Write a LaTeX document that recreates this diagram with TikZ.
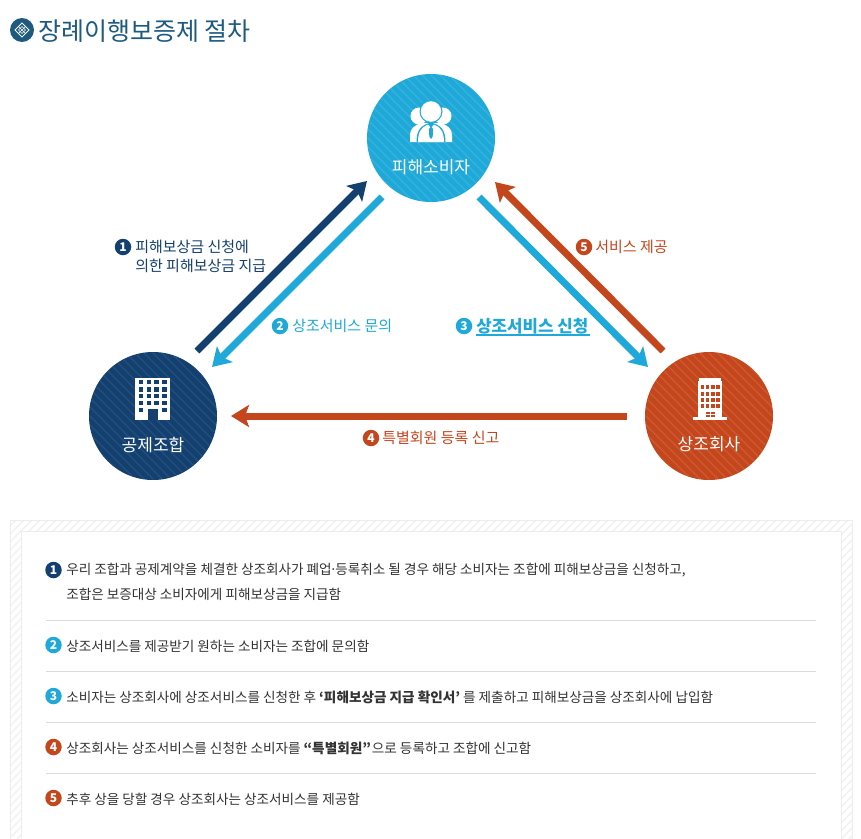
\documentclass[tikz,border=0pt]{standalone}
\usepackage{fontspec}
\setmainfont{Noto Sans CJK KR}
\usetikzlibrary{arrows.meta}
\definecolor{navy}{HTML}{13406F}
\definecolor{navyl}{HTML}{24507E}
\definecolor{sky}{HTML}{1FA9D8}
\definecolor{skyl}{HTML}{36B3DD}
\definecolor{rust}{HTML}{C4461C}
\definecolor{rustl}{HTML}{CF5A32}
\definecolor{titlec}{HTML}{1D5A7F}
\definecolor{bodyc}{HTML}{333333}
\newcommand{\pxs}[1]{\fontsize{\the\dimexpr#1pt*3/4\relax}{\the\dimexpr#1pt\relax}\selectfont}
\newcommand{\hatchcircle}[4]{%
  \fill[#3] (#1,#2) circle (64);
  \begin{scope}
    \clip (#1,#2) circle (63.5);
    \foreach \dd in {-126,-117,...,126}
      \draw[#4,line width=1.3*0.75pt] (#1+\dd-70,#2-70) -- (#1+\dd+70,#2+70);
  \end{scope}}
\tikzset{
  x=0.75pt,y=-0.75pt,
  num/.style={circle,inner sep=0pt,minimum size=16.5*0.75pt,fill=#1,text=white,font=\pxs{12}\bfseries},
  circlabel/.style={text=white,font=\pxs{17}},
  flow/.style={line width=7*0.75pt,draw=#1,-{Stealth[length=18*0.75pt,width=22*0.75pt,inset=4*0.75pt]}},
  lab/.style={anchor=west,inner sep=0pt,text=#1,font=\pxs{15}},
  body/.style={anchor=west,inner sep=0pt,text=bodyc,font=\pxs{13.6}},
  sep/.style={draw=black!14,line width=0.75pt},
  icon/.style={fill=white,draw=none},
}
\begin{document}
\begin{tikzpicture}
\useasboundingbox (0,0) rectangle (861,839);
\fill[white] (0,0) rectangle (861,839);
% title
\node[circle,fill=titlec,minimum size=24*0.75pt,inner sep=0pt] (ticon) at (22,30) {};
\draw[white,line width=0.6pt] (22,23) -- (29,30) -- (22,37) -- (15,30) -- cycle;
\draw[white,line width=0.5pt] (22,26.5) -- (25.5,30) -- (22,33.5) -- (18.5,30) -- cycle;
\draw[white,line width=0.4pt] (18.5,26.5) -- (25.5,33.5) (25.5,26.5) -- (18.5,33.5);
\node[anchor=west,inner sep=0pt,text=titlec,font=\pxs{25}] (title) at (38,31) {장례이행보증제 절차};
% circles
\hatchcircle{431}{138}{sky}{skyl}
\hatchcircle{153}{416}{navy}{navyl}
\hatchcircle{709}{416}{rust}{rustl}
\node[circle,minimum size=128*0.75pt,inner sep=0pt] (cons) at (431,138) {};
\node[circle,minimum size=128*0.75pt,inner sep=0pt] (union) at (153,416) {};
\node[circle,minimum size=128*0.75pt,inner sep=0pt] (firm) at (709,416) {};
\node[circlabel] (consl) at (431,167) {피해소비자};
\node[circlabel] (unionl) at (153,445) {공제조합};
\node[circlabel] (firml) at (709,444) {상조회사};
% people icon
\fill[icon] (419,116) circle (8.5);
\fill[icon] (443,116) circle (8.5);
\fill[icon] (410,142) -- (410,135) .. controls (410,129) and (414,125) .. (422,123) -- (440,123) .. controls (448,125) and (452,129) .. (452,135) -- (452,142) -- cycle;
\fill[sky] (431,111.5) circle (11.5);
\fill[icon] (431,111.5) circle (10.3);
\fill[sky] (416.5,142) .. controls (416.5,130) and (421,125) .. (431,122.5) .. controls (441,125) and (445.5,130) .. (445.5,142) -- cycle;
\fill[icon] (418,142) .. controls (418,131) and (422,127) .. (428,124.5) -- (431,128) -- (434,124.5) .. controls (440,127) and (444,131) .. (444,142) -- cycle;
\fill[sky] (431,126.5) -- (433,129) -- (432.7,136.5) -- (431,139) -- (429.3,136.5) -- (429,129) -- cycle;
% union building
\fill[icon] (135,378) rectangle (170,420);
\foreach \yy in {380,387.3,394,400.7}
  \foreach \xx in {139,146.7,154.3,162.3}
    \fill[navy] (\xx,\yy) rectangle ++(4.4,4.4);
\fill[navy] (147.7,409) rectangle (158.3,420);
\fill[navy] (139,408) rectangle ++(4.4,4.4);
\fill[navy] (162.3,408) rectangle ++(4.4,4.4);
% firm building
\fill[icon] (698.5,378) rectangle (721,381);
\fill[icon] (697.5,381) rectangle (722,417);
\fill[icon] (693,417) rectangle (726.5,420);
\foreach \yy in {385,391.6,398,404.4}
  \foreach \xx in {700.5,705.8,711.1,716.4}
    \fill[rust] (\xx,\yy) rectangle ++(3.6,4);
\fill[rust] (705.5,411.5) rectangle (714.5,416.5);
\fill[icon] (709.6,411.5) rectangle (710.4,416.5);
\fill[icon] (705.5,413.6) rectangle (714.5,414.2);
% arrows
\coordinate (a1s) at (197,351);
\coordinate (a1e) at (367,181);
\coordinate (a2s) at (382,197);
\coordinate (a2e) at (212,367);
\coordinate (a3s) at (479,197);
\coordinate (a3e) at (648,367);
\coordinate (a5s) at (663,351);
\coordinate (a5e) at (495,182);
\coordinate (a4s) at (627,416);
\coordinate (a4e) at (231,416);
\draw[flow=navy] (a1s) -- (a1e);
\draw[flow=sky] (a2s) -- (a2e);
\draw[flow=sky] (a3s) -- (a3e);
\draw[flow=rust] (a5s) -- (a5e);
\draw[flow=rust] (a4s) -- (a4e);
% arrow labels
\node[num=navy] (n1) at (123,247) {1};
\node[lab=navy] (l1a) at (135,247) {피해보상금 신청에};
\node[lab=navy] (l1b) at (135,265.5) {의한 피해보상금 지급};
\node[num=sky] (n2) at (280,326) {2};
\node[lab=sky] (l2) at (292,326) {상조서비스 문의};
\node[num=sky] (n3) at (464,326) {3};
\node[lab=sky,font=\pxs{16.8}\bfseries] (l3) at (476,326) {상조서비스 신청};
\draw[sky,line width=0.9pt] (476,335) -- (590,335);
\node[num=rust] (n5) at (584,247) {5};
\node[lab=rust] (l5) at (595,247) {서비스 제공};
\node[num=rust] (n4) at (371,438) {4};
\node[lab=rust] (l4) at (382,438) {특별회원 등록 신고};
% panel
\begin{scope}
  \clip (10,520) rectangle (852,839);
  \foreach \dd in {0,8,...,1192}
    \draw[black!6,line width=1.2*0.75pt] (10+\dd,510) -- (10+\dd-340,850);
\end{scope}
\draw[black!7,line width=0.75pt] (10,839) -- (10,520) -- (852,520) -- (852,839);
\fill[white] (21,531) rectangle (841,839);
\draw[black!7,line width=0.75pt] (21,839) -- (21,531) -- (841,531) -- (841,839);
\node[num=navy] (b1) at (53.5,570) {1};
\node[body] (t1a) at (66,570) {우리 조합과 공제계약을 체결한 상조회사가 폐업\kern-1.5pt·\kern-1.5pt등록취소 될 경우 해당 소비자는 조합에 피해보상금을 신청하고,};
\node[body] (t1b) at (66,594) {조합은 보증대상 소비자에게 피해보상금을 지급함};
\draw[sep] (46,620) -- (816,620);
\node[num=sky] (b2) at (53.5,645) {2};
\node[body] (t2) at (66,646) {상조서비스를 제공받기 원하는 소비자는 조합에 문의함};
\draw[sep] (46,671) -- (816,671);
\node[num=sky] (b3) at (53.5,696) {3};
\node[body] (t3) at (66,697) {소비자는 상조회사에 상조서비스를 신청한 후 {\bfseries ‘피해보상금 지급 확인서’} 를 제출하고 피해보상금을 상조회사에 납입함};
\draw[sep] (46,722) -- (816,722);
\node[num=rust] (b4) at (53.5,747) {4};
\node[body] (t4) at (66,748) {상조회사는 상조서비스를 신청한 소비자를 {\bfseries “특별회원”\kern-1.5pt} 으로 등록하고 조합에 신고함};
\draw[sep] (46,773) -- (816,773);
\node[num=rust] (b5) at (53.5,798) {5};
\node[body] (t5) at (66,799) {추후 상을 당할 경우 상조회사는 상조서비스를 제공함};
\end{tikzpicture}
\end{document}
